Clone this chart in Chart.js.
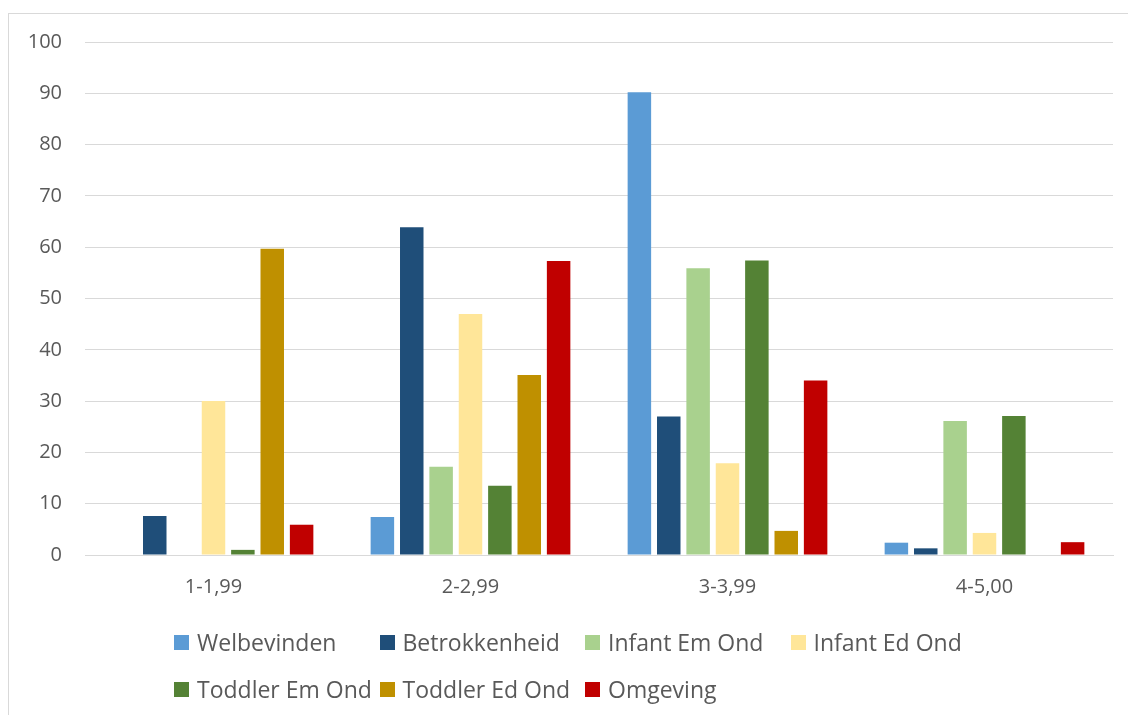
<!DOCTYPE html>
<html>
<head>
<meta charset="utf-8">
<script src="https://cdn.jsdelivr.net/npm/chart.js@4.4.1/dist/chart.umd.min.js"></script>
<style>
  html, body { margin: 0; padding: 0; background: #fff; }
  #wrap { position: relative; width: 1128px; height: 715px; overflow: hidden; }
  #frame { position: absolute; left: 8px; top: 13px; width: 1200px; height: 800px;
           border-left: 1px solid #d9d9d9; border-top: 1px solid #d9d9d9; }
  #chart { position: absolute; left: 0; top: 0; }
  #legend { position: absolute; left: 174px; top: 626px; display: grid;
            grid-template-columns: repeat(4, 205.5px); row-gap: 15px;
            font-family: "Open Sans", sans-serif; font-size: 23px; color: #595959; }
  .item { display: flex; align-items: center; white-space: nowrap; height: 32px; }
  .box { width: 15px; height: 15px; margin-right: 8px; flex: none; }
</style>
</head>
<body>
<div id="wrap">
  <div id="frame"></div>
  <canvas id="chart" width="1128" height="715"></canvas>
  <div id="legend"></div>
</div>
<script>
// categorieën en reeksen
const categories = ['1-1,99', '2-2,99', '3-3,99', '4-5,00'];
const seriesNames = ['Welbevinden', 'Betrokkenheid', 'Infant Em Ond', 'Infant Ed Ond',
                     'Toddler Em Ond', 'Toddler Ed Ond', 'Omgeving'];
const colors = ['#5b9bd5', '#1f4e79', '#a9d18e', '#ffe699', '#548235', '#bf9000', '#c00000'];

const welbevinden  = [0, 7.4, 90.2, 2.4];
const betrokken    = [7.6, 63.9, 27.0, 1.3];
const infantEm     = [0, 17.2, 55.9, 26.1];
const infantEd     = [30.0, 47.0, 17.9, 4.3];
const toddlerEm    = [1.0, 13.5, 57.4, 27.1];
const toddlerEd    = [59.7, 35.1, 4.7, 0];
const omgeving     = [5.9, 57.3, 34.0, 2.5];

const yTicks = [0, 10, 20, 30, 40, 50, 60, 70, 80, 90, 100];

const values = [welbevinden, betrokken, infantEm, infantEd, toddlerEm, toddlerEd, omgeving];
const textColor = '#595959';
const font = { family: '"Open Sans", sans-serif', size: 20 };

const ctx = document.getElementById('chart').getContext('2d');
new Chart(ctx, {
    type: 'bar',
    data: {
        labels: categories,
        datasets: seriesNames.map((name, i) => ({
            label: name,
            data: values[i],
            backgroundColor: colors[i],
            borderWidth: 0,
            categoryPercentage: 0.8,
            barPercentage: 0.8
        }))
    },
    options: {
        responsive: false,
        animation: false,
        layout: { padding: { left: 0, right: 15, top: 42, bottom: 0 } },
        plugins: {
            legend: { display: false },
            tooltip: { enabled: false }
        },
        scales: {
            x: {
                grid: { display: false, drawTicks: false },
                border: { display: true, color: '#d9d9d9', width: 1 },
                ticks: { color: textColor, font: font, padding: 20 },
                afterFit: (scale) => { scale.height = 160; }
            },
            y: {
                min: 0,
                max: 100,
                afterBuildTicks: (scale) => { scale.ticks = yTicks.map(v => ({ value: v })); },
                grid: { color: '#d9d9d9', lineWidth: 1, drawTicks: false },
                border: { display: false },
                ticks: { color: textColor, font: font, padding: 23 },
                afterFit: (scale) => { scale.width = 85; }
            }
        }
    }
});

// legenda
const legend = document.getElementById('legend');
seriesNames.forEach((name, i) => {
    const item = document.createElement('div');
    item.className = 'item';
    item.innerHTML = '<span class="box" style="background:' + colors[i] + '"></span>' + name;
    legend.appendChild(item);
});
</script>
</body>
</html>
